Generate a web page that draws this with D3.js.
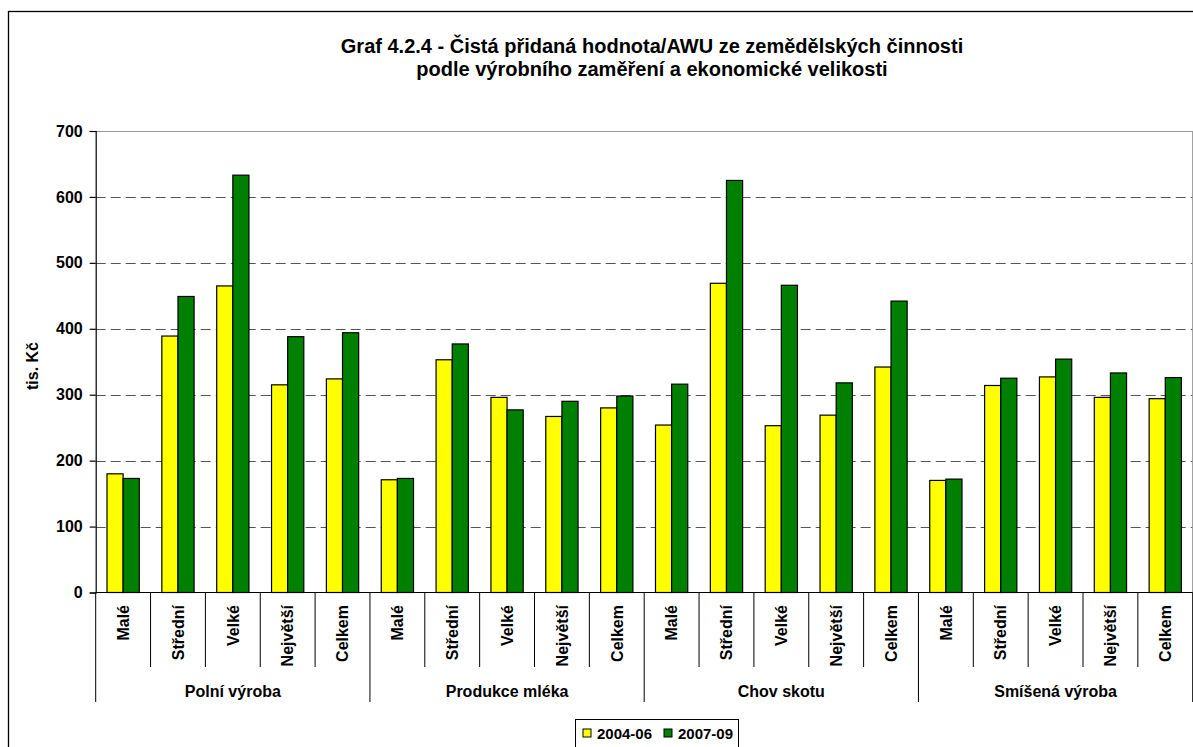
<!DOCTYPE html>
<html>
<head>
<meta charset="utf-8">
<script src="https://cdn.jsdelivr.net/npm/d3@7"></script>
<style>
  html, body { margin: 0; padding: 0; background: #fff; }
  svg { display: block; font-family: "Liberation Sans", Arial, sans-serif; }
</style>
</head>
<body>
<svg id="chart" width="1193" height="747"></svg>
<script>
const titleLines = [
  "Graf 4.2.4 - Čistá přidaná hodnota/AWU ze zemědělských činnosti",
  "podle výrobního zaměření a ekonomické velikosti"
];
const groups = ["Polní výroba", "Produkce mléka", "Chov skotu", "Smíšená výroba"];
const sizes = ["Malé", "Střední", "Velké", "Největší", "Celkem"];
const seriesNames = ["2004-06", "2007-09"];
const seriesColors = ["#FFFF00", "#008000"];
// values per group, in order of sizes
const values2004 = [
  [180, 389, 465, 315, 324],
  [171, 353, 296, 267, 280],
  [254, 469, 253, 269, 342],
  [170, 314, 327, 296, 294]
];
const values2007 = [
  [173, 449, 633, 388, 394],
  [173, 377, 277, 290, 298],
  [316, 625, 466, 318, 442],
  [172, 325, 354, 333, 326]
];
const yTicks = [0, 100, 200, 300, 400, 500, 600, 700];
const yTitle = "tis. Kč";

const svg = d3.select("#chart");
const plot = { left: 95.7, right: 1192.7, top: 131, bottom: 592.5 };

// outer frame
svg.append("rect").attr("x", 8.5).attr("y", 11.5).attr("width", 1300).attr("height", 900)
  .attr("fill", "#fff").attr("stroke", "#000").attr("stroke-width", 1.3);

// title
svg.append("g").selectAll("text").data(titleLines).join("text")
  .attr("x", 652).attr("y", (d, i) => 53 + i * 23)
  .attr("text-anchor", "middle").attr("font-size", 20).attr("font-weight", "bold")
  .text(d => d);

const y = d3.scaleLinear().domain([0, 700]).range([plot.bottom, plot.top]);
const xGroup = d3.scaleBand().domain(groups).range([plot.left, plot.right]);
const xSize = d3.scaleBand().domain(sizes).range([0, xGroup.bandwidth()]);
const xSeries = d3.scaleBand().domain(seriesNames).range([0, xSize.bandwidth()])
  .paddingInner(0).paddingOuter(0.7);

// gridlines
svg.append("g").selectAll("line").data(yTicks.filter(t => t > 0 && t < 700)).join("line")
  .attr("x1", plot.left).attr("x2", plot.right)
  .attr("y1", d => Math.round(y(d)) + 0.5).attr("y2", d => Math.round(y(d)) + 0.5)
  .attr("stroke", "#555").attr("stroke-width", 1).attr("stroke-dasharray", "10,5");

// plot border top/right
svg.append("path")
  .attr("d", `M${plot.left},${plot.top + 0.5}H${plot.right}V${plot.bottom}`)
  .attr("fill", "none").attr("stroke", "#999").attr("stroke-width", 1.2);

// bars
const flat = [];
groups.forEach((g, gi) => sizes.forEach((s, si) => {
  flat.push({ g, s, series: seriesNames[0], v: values2004[gi][si], c: seriesColors[0] });
  flat.push({ g, s, series: seriesNames[1], v: values2007[gi][si], c: seriesColors[1] });
}));
svg.append("g").selectAll("rect").data(flat).join("rect")
  .attr("x", d => xGroup(d.g) + xSize(d.s) + xSeries(d.series))
  .attr("y", d => y(d.v))
  .attr("width", xSeries.bandwidth())
  .attr("height", d => y(0) - y(d.v))
  .attr("fill", d => d.c).attr("stroke", "#000").attr("stroke-width", 1.2);

// y axis
const yAxis = d3.axisLeft(y).tickValues(yTicks).tickSize(6).tickPadding(7);
const ya = svg.append("g").attr("transform", `translate(${plot.left},0)`).call(yAxis);
ya.select(".domain").attr("stroke", "#000").attr("stroke-width", 1.2);
ya.selectAll(".tick line").attr("stroke", "#000").attr("stroke-width", 1.2);
ya.selectAll(".tick text").attr("font-size", 16).attr("font-weight", "bold")
  .attr("font-family", "Liberation Sans, Arial, sans-serif").attr("fill", "#000");

svg.append("text").attr("transform", "translate(38,366) rotate(-90)")
  .attr("text-anchor", "middle").attr("font-size", 16).attr("font-weight", "bold").text(yTitle);

// x axis baseline
svg.append("line").attr("x1", plot.left).attr("x2", plot.right)
  .attr("y1", plot.bottom).attr("y2", plot.bottom).attr("stroke", "#000").attr("stroke-width", 1.2);

// category separators
const catBounds = [];
groups.forEach(g => sizes.forEach((s, si) => { if (si > 0) catBounds.push(xGroup(g) + xSize(s)); }));
svg.append("g").selectAll("line").data(catBounds).join("line")
  .attr("x1", d => d).attr("x2", d => d).attr("y1", plot.bottom).attr("y2", 667)
  .attr("stroke", "#000").attr("stroke-width", 1);
// group separators
const groupBounds = groups.map(g => xGroup(g)).concat([plot.right]);
svg.append("g").selectAll("line").data(groupBounds).join("line")
  .attr("x1", d => d).attr("x2", d => d).attr("y1", plot.bottom).attr("y2", 702)
  .attr("stroke", "#000").attr("stroke-width", 1);

// category labels
const catLabels = [];
groups.forEach(g => sizes.forEach(s => catLabels.push({ x: xGroup(g) + xSize(s) + xSize.bandwidth() / 2, s })));
svg.append("g").selectAll("text").data(catLabels).join("text")
  .attr("transform", d => `translate(${d.x},605) rotate(-90)`)
  .attr("dy", "0.36em").attr("text-anchor", "end")
  .attr("font-size", 16).attr("font-weight", "bold").text(d => d.s);

// group labels
svg.append("g").selectAll("text").data(groups).join("text")
  .attr("x", d => xGroup(d) + xGroup.bandwidth() / 2).attr("y", 697)
  .attr("text-anchor", "middle").attr("font-size", 16).attr("font-weight", "bold").text(d => d);

// legend
const lg = svg.append("g");
lg.append("rect").attr("x", 575.5).attr("y", 719.5).attr("width", 163).attr("height", 30)
  .attr("fill", "#fff").attr("stroke", "#000").attr("stroke-width", 1);
const legX = [583, 664];
seriesNames.forEach((n, i) => {
  lg.append("rect").attr("x", legX[i]).attr("y", 729).attr("width", 8).attr("height", 8)
    .attr("fill", seriesColors[i]).attr("stroke", "#000").attr("stroke-width", 1);
  lg.append("text").attr("x", legX[i] + 14).attr("y", 739)
    .attr("font-size", 15).attr("font-weight", "bold").text(n);
});
</script>
</body>
</html>
